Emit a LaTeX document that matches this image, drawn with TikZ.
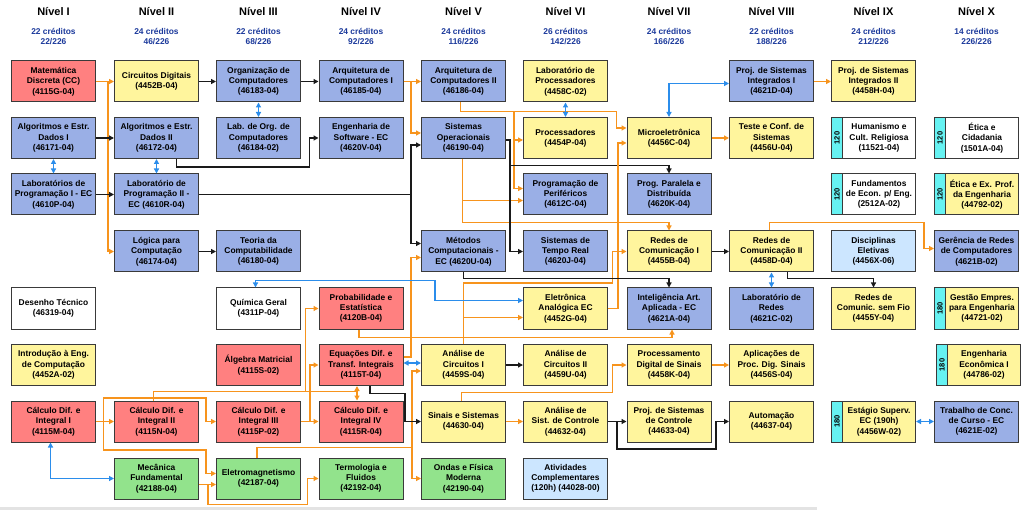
\documentclass[tikz,border=0pt]{standalone}
\usepackage{fontspec}
\setmainfont{Liberation Sans}
\usetikzlibrary{arrows.meta}
\definecolor{cR}{HTML}{FF8080}
\definecolor{cY}{HTML}{FFF59D}
\definecolor{cB}{HTML}{9AAFE6}
\definecolor{cG}{HTML}{92E38C}
\definecolor{cL}{HTML}{CCE6FF}
\definecolor{cC}{HTML}{66F2F2}
\definecolor{cW}{HTML}{FFFFFF}
\definecolor{bordc}{HTML}{3A3A3A}
\definecolor{lnO}{HTML}{F7941D}
\definecolor{lnK}{HTML}{1A1A1A}
\definecolor{lnB}{HTML}{2B8DEB}
\definecolor{hdB}{HTML}{1C3A9C}
\newcommand{\boxfont}{\fontsize{8.4}{10.3}\selectfont\bfseries}
\newcommand{\cbox}[5]{\node[cb,fill=#4] (#1) at (#2,#3) {#5};}
\newcommand{\stripbx}[6]{%
  \node[cb,fill=#4,minimum width=73pt] (#1) at (#2+5.5,#3) {#6};
  \node[draw=bordc,line width=1pt,fill=cC,minimum width=11pt,minimum height=41pt,inner sep=0pt] (#1s) at (#2-36.5,#3) {\rotatebox{90}{\fontsize{7.5}{8}\selectfont\bfseries #5}};}
\begin{document}
\begin{tikzpicture}[x=1pt,y=-1pt,
  cb/.style={draw=bordc,line width=1pt,minimum width=84pt,minimum height=41pt,inner sep=1pt,align=center,font=\boxfont,text=black},
  hdr/.style={font=\fontsize{11}{13}\selectfont\bfseries,inner sep=0pt},
  hcr/.style={font=\fontsize{8.4}{10}\selectfont\bfseries,text=hdB,inner sep=0pt},
  tip/.tip={Triangle[length=5pt,width=5pt]},
  oarr/.style={draw=lnO,line width=1.3pt,-tip},
  karr/.style={draw=lnK,line width=1.3pt,-tip},
  barr/.style={draw=lnB,line width=1.3pt,tip-tip}]
\useasboundingbox (0,0) rectangle (1024,510);
\fill[white] (0,0) rectangle (1024,510);
\fill[gray!22] (0,506.5) rectangle (817,510);

% headers
\foreach \cxx/\nvv/\crr/\acc in {53.5/I/22/22,156.5/II/24/46,258.5/III/22/68,361/IV/24/92,463.5/V/24/116,565.5/VI/26/142,669/VII/24/166,771.5/VIII/22/188,873.5/IX/24/212,976.5/X/14/226}{
  \node[hdr] (n\nvv) at (\cxx,12) {Nível \nvv};
  \node[hcr] (k\nvv) at (\cxx,31) {\crr\ créditos};
  \node[hcr] (t\nvv) at (\cxx,41.5) {\acc/226};
}

% column I
\cbox{matd}{53.5}{81.5}{cR}{Matemática\\Discreta (CC)\\(4115G-04)}
\cbox{alg1}{53.5}{138}{cB}{Algoritmos e Estr.\\Dados I\\(46171-04)}
\cbox{labp1}{53.5}{194.5}{cB}{Laboratórios de\\Programação I - EC\\(4610P-04)}
\cbox{des}{53.5}{308.5}{cW}{Desenho Técnico\\(46319-04)}
\cbox{intro}{53.5}{365}{cY}{Introdução à Eng.\\de Computação\\(4452A-02)}
\cbox{calc1}{53.5}{421.5}{cR}{Cálculo Dif. e\\Integral I\\(4115M-04)}
% column II
\cbox{circ}{156.5}{81.5}{cY}{Circuitos Digitais\\(4452B-04)}
\cbox{alg2}{156.5}{138}{cB}{Algoritmos e Estr.\\Dados II\\(46172-04)}
\cbox{labp2}{156.5}{194.5}{cB}{Laboratório de\\Programação II -\\EC (4610R-04)}
\cbox{logc}{156.5}{251.5}{cB}{Lógica para\\Computação\\(46174-04)}
\cbox{calc2}{156.5}{421.5}{cR}{Cálculo Dif. e\\Integral II\\(4115N-04)}
\cbox{mec}{156.5}{478.5}{cG}{Mecânica\\Fundamental\\(42188-04)}
% column III
\cbox{orgc}{258.5}{81.5}{cB}{Organização de\\Computadores\\(46183-04)}
\cbox{laborg}{258.5}{138}{cB}{Lab. de Org. de\\Computadores\\(46184-02)}
\cbox{teoc}{258.5}{251.5}{cB}{Teoria da\\Computabilidade\\(46180-04)}
\cbox{quim}{258.5}{308.5}{cW}{Química Geral\\(4311P-04)}
\cbox{algm}{258.5}{365}{cR}{Álgebra Matricial\\(4115S-02)}
\cbox{calc3}{258.5}{421.5}{cR}{Cálculo Dif. e\\Integral III\\(4115P-02)}
\cbox{elet}{258.5}{478.5}{cG}{Eletromagnetismo\\(42187-04)}
% column IV
\cbox{arq1}{361}{81.5}{cB}{Arquitetura de\\Computadores I\\(46185-04)}
\cbox{engs}{361}{138}{cB}{Engenharia de\\Software - EC\\(4620V-04)}
\cbox{prob}{361}{308.5}{cR}{Probabilidade e\\Estatística\\(4120B-04)}
\cbox{eqd}{361}{365}{cR}{Equações Dif. e\\Transf. Integrais\\(4115T-04)}
\cbox{calc4}{361}{421.5}{cR}{Cálculo Dif. e\\Integral IV\\(4115R-04)}
\cbox{term}{361}{478.5}{cG}{Termologia e\\Fluidos\\(42192-04)}
% column V
\cbox{arq2}{463.5}{81.5}{cB}{Arquitetura de\\Computadores II\\(46186-04)}
\cbox{sop}{463.5}{138}{cB}{Sistemas\\Operacionais\\(46190-04)}
\cbox{metc}{463.5}{251.5}{cB}{Métodos\\Computacionais -\\EC (4620U-04)}
\cbox{anc1}{463.5}{365}{cY}{Análise de\\Circuitos I\\(4459S-04)}
\cbox{sins}{463.5}{421.5}{cY}{Sinais e Sistemas\\(44630-04)}
\cbox{ondas}{463.5}{478.5}{cG}{Ondas e Física\\Moderna\\(42190-04)}
% column VI
\cbox{labpr}{565.5}{81.5}{cY}{Laboratório de\\Processadores\\(4458C-02)}
\cbox{proc}{565.5}{138}{cY}{Processadores\\(4454P-04)}
\cbox{pper}{565.5}{194.5}{cB}{Programação de\\Periféricos\\(4612C-04)}
\cbox{str}{565.5}{251.5}{cB}{Sistemas de\\Tempo Real\\(4620J-04)}
\cbox{elan}{565.5}{308.5}{cY}{Eletrônica\\Analógica EC\\(4452G-04)}
\cbox{anc2}{565.5}{365}{cY}{Análise de\\Circuitos II\\(4459U-04)}
\cbox{asc}{565.5}{421.5}{cY}{Análise de\\Sist. de Controle\\(44632-04)}
\cbox{ativ}{565.5}{478.5}{cL}{Atividades\\Complementares\\(120h) (44028-00)}
% column VII
\cbox{micro}{669}{138}{cY}{Microeletrônica\\(4456C-04)}
\cbox{ppd}{669}{194.5}{cB}{Prog. Paralela e\\Distribuída\\(4620K-04)}
\cbox{red1}{669}{251.5}{cY}{Redes de\\Comunicação I\\(4455B-04)}
\cbox{iaa}{669}{308.5}{cB}{Inteligência Art.\\Aplicada - EC\\(4621A-04)}
\cbox{pds}{669}{365}{cY}{Processamento\\Digital de Sinais\\(4458K-04)}
\cbox{psc}{669}{421.5}{cY}{Proj. de Sistemas\\de Controle\\(44633-04)}
% column VIII
\cbox{psi1}{771.5}{81.5}{cB}{Proj. de Sistemas\\Integrados I\\(4621D-04)}
\cbox{tcs}{771.5}{138}{cY}{Teste e Conf. de\\Sistemas\\(4456U-04)}
\cbox{red2}{771.5}{251.5}{cY}{Redes de\\Comunicação II\\(4458D-04)}
\cbox{labr}{771.5}{308.5}{cB}{Laboratório de\\Redes\\(4621C-02)}
\cbox{apds}{771.5}{365}{cY}{Aplicações de\\Proc. Dig. Sinais\\(4456S-04)}
\cbox{auto}{771.5}{421.5}{cY}{Automação\\(44637-04)}
% column IX
\cbox{psi2}{873.5}{81.5}{cY}{Proj. de Sistemas\\Integrados II\\(4458H-04)}
\stripbx{hum}{873.5}{138}{cW}{120}{Humanismo e\\Cult. Religiosa\\(11521-04)}
\stripbx{fund}{873.5}{194.5}{cW}{120}{Fundamentos\\de Econ. p/ Eng.\\(2512A-02)}
\cbox{eletv}{873.5}{251.5}{cL}{Disciplinas\\Eletivas\\(4456X-06)}
\cbox{rsf}{873.5}{308.5}{cY}{Redes de\\Comunic. sem Fio\\(4455Y-04)}
\stripbx{est}{873.5}{421.5}{cY}{180}{Estágio Superv.\\EC (190h)\\(4456W-02)}
% column X
\stripbx{etic}{976.5}{138}{cW}{120}{Ética e\\Cidadania\\(1501A-04)}
\stripbx{etp}{976.5}{194.5}{cY}{120}{Ética e Ex. Prof.\\da Engenharia\\(44792-02)}
\cbox{ger}{976.5}{251.5}{cB}{Gerência de Redes\\de Computadores\\(4621B-02)}
\stripbx{gest}{976.5}{308.5}{cY}{180}{Gestão Empres.\\para Engenharia\\(44721-02)}
\stripbx{engec}{978.5}{365}{cY}{180}{Engenharia\\Econômica I\\(44786-02)}
\cbox{tcc}{976.5}{421.5}{cB}{Trabalho de Conc.\\de Curso - EC\\(4621E-02)}

% ---------- connectors ----------
\draw[oarr] (matd.east) -- (circ.west);
\draw[oarr] (matd.east) -- ++(12,0) |- (logc.west);
\draw[karr] (circ.east) -- (orgc.west);
\draw[karr] (alg1.east) -- (alg2.west);
\draw[barr] (alg1.south) -- (labp1.north);
\draw[barr] (alg2.south) -- (labp2.north);
\draw[karr] (labp1.east) -- (labp2.west);
\draw[karr] ([xshift=20]alg2.south) -- ++(0,8) -| ([xshift=-9]engs.west) -- (engs.west);
\draw[karr] (labp2.east) -| ([xshift=-10,yshift=-7]sop.west) -- ([yshift=-7]sop.west);
\draw[karr] (labp2.east) -| ([xshift=-10,yshift=8]metc.west) -- ([yshift=8]metc.west);
\draw[karr] (logc.east) -- (teoc.west);
\draw[barr] (orgc.south) -- (laborg.north);
\draw[karr] (orgc.east) -- (arq1.west);
\draw[oarr] (arq1.east) -- (arq2.west);
\draw[oarr] (arq1.east) -| ([xshift=-10,yshift=5]sop.west) -- ([yshift=5]sop.west);
\draw[oarr] ([xshift=-3]arq2.south) -- ++(0,9) -| ([xshift=-10,yshift=10]micro.west) -- ([yshift=10]micro.west);
\draw[oarr] ([xshift=-3]arq2.south) -- ++(0,9) -| ([xshift=-9,yshift=-2]proc.west) -- ([yshift=-2]proc.west);
\draw[oarr] ([xshift=-3]arq2.south) -- ++(0,9) -| ([xshift=-9,yshift=6]pper.west) -- ([yshift=6]pper.west);
\draw[oarr] ([xshift=-1]sop.south) |- ([yshift=8]red1.north) -- (red1.north);
\draw[oarr] ([xshift=-1]sop.south) |- ([yshift=-6]pper.west);
\draw[karr] ([yshift=-2]sop.east) -- ++(4,0) |- (str.west);
\draw[karr] ([yshift=-2]sop.east) -- ++(4,0) |- ([yshift=8]ppd.north) -- (ppd.north);
\draw[oarr] (micro.east) -- (tcs.west);
\draw[barr] (labpr.south) -- (proc.north);
\draw[barr] (micro.north) |- ([yshift=-2]psi1.west);
\draw[oarr] (psi1.east) -- (psi2.west);
\draw[oarr] (elan.east) -- ++(10,0) |- ([yshift=-5]micro.west);
\draw[oarr] (anc1.north) |- ([xshift=-14,yshift=-31.5]red1.west) |- (red1.west);
\draw[oarr] (anc1.north) |- ([yshift=-9]elan.west);
\draw[oarr] ([xshift=-2]prob.south) -- ++(0,8) -| ([xshift=3]iaa.south);
\draw[karr] (metc.south) -- ++(0,6) -| (iaa.north);
\draw[oarr] ([yshift=8]eqd.east) -| ([xshift=-10,yshift=-6]metc.west) -- ([yshift=-6]metc.west);
\draw[barr] ([yshift=2]eqd.east) -- ([yshift=2]anc1.west);
\draw[oarr] ([xshift=-1.5]elet.north) -- ++(0,-10) -| ([xshift=-9,yshift=-6]anc1.west) -- ([yshift=-6]anc1.west);
\draw[oarr] ([xshift=-1.5]elet.north) -- ++(0,-10) -| ([xshift=-9]ondas.west) -- (ondas.west);
\draw[oarr] (calc1.east) -- (calc2.west);
\draw[oarr] (calc1.east) -- ++(7.5,0) -- ++(0,-23.5) -| ([xshift=-10]calc3.west) -- (calc3.west);
\draw[oarr] (calc1.east) -- ++(7.5,0) -- ++(0,28.5) -| ([xshift=-10,yshift=5]elet.west) -- ([yshift=5]elet.west);
\draw[oarr] ([yshift=-6]mec.east) -- ([yshift=-6]elet.west);
\draw[oarr] ([yshift=-6]mec.east) -- ++(9,0) -- ++(0,20) -| ([xshift=-11]term.west) -- (term.west);
\draw[barr] ([xshift=-3]calc1.south) |- (mec.west);
\draw[oarr] ([xshift=-3]calc2.north) -- ++(0,-9) -| ([xshift=-13]prob.west) -- (prob.west);
\draw[oarr] ([xshift=-3]calc2.north) -- ++(0,-9) -| ([xshift=-4]eqd.south);
\draw[oarr] ([xshift=-3]calc2.north) -- ++(0,-9) -| ([xshift=-4]calc4.north);
\draw[oarr] (calc3.east) -- (calc4.west);
\draw[oarr] (calc3.east) -- ++(9,0) |- (eqd.west);
\draw[karr] ([xshift=9]eqd.south) -- ++(0,7.5) -| ([xshift=-16]sins.west) -- (sins.west);
\draw[karr] (anc1.east) -- (anc2.west);
\draw[oarr] (sins.east) -- (asc.west);
\draw[oarr] ([xshift=-2]sins.north) -- ++(0,-8) -| ([xshift=-14]pds.west) -- (pds.west);
\draw[oarr] (pds.east) -- (apds.west);
\draw[karr] (asc.east) -- (psc.west);
\draw[karr] (asc.east) -- ++(9,0) -- ++(0,27.5) -| ([xshift=-13]auto.west) -- (auto.west);
\draw[karr] (red1.east) -- (red2.west);
\draw[oarr] ([xshift=-2]red2.north) -- ++(0,-8) -| ([xshift=-10,yshift=3]ger.west) -- ([yshift=3]ger.west);
\draw[barr] (red2.south) -- (labr.north);
\draw[karr] ([xshift=16]red2.south) -- ++(0,6) -| (rsf.north);
\draw[barr] ([xshift=-3]quim.north) -- ++(0,-7) -| ([xshift=-88,yshift=8]elan.west) -- ([yshift=8]elan.west);
\draw[barr] (est.east) -- (tcc.west);
\end{tikzpicture}
\end{document}
